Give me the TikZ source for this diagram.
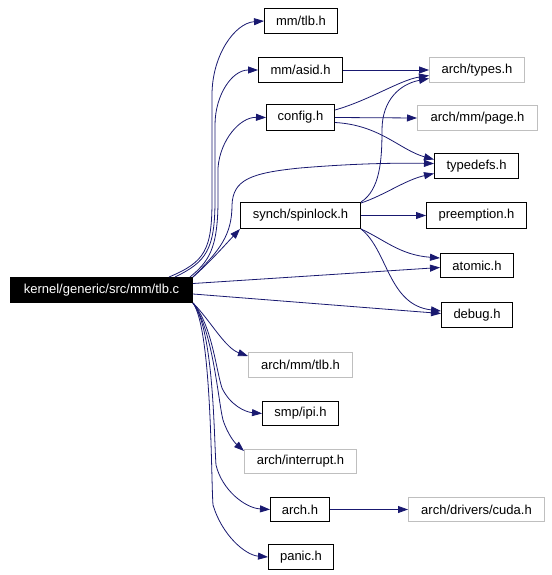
\documentclass[tikz,border=0pt]{standalone}
\usepackage{fontspec}
\setmainfont{Liberation Sans}
\usetikzlibrary{arrows.meta}
\definecolor{edgec}{RGB}{25,25,112}
\definecolor{grayb}{RGB}{191,191,191}
\tikzset{
  box/.style={draw=black, line width=1pt, inner sep=0pt, font=\fontsize{13}{15}\selectfont, anchor=north west},
  gbox/.style={box, draw=grayb},
  mainbox/.style={box, fill=black, text=white},
  edge/.style={draw=edgec, line width=0.8pt, -{Triangle[length=10pt,width=7pt]}},
}
\newcommand{\bx}[7]{\node[#1, minimum width=#5-#3, minimum height=#6-#4] (#2) at (#3,#4) {#7};}
\begin{document}
\begin{tikzpicture}[x=1pt,y=-1pt]
\useasboundingbox (0,0) rectangle (551,575);
\bx{mainbox}{main}{10}{277}{192}{302}{kernel/generic/src/mm/tlb.c}
\bx{box}{mmtlb}{264}{8}{337}{33}{mm/tlb.h}
\bx{box}{asid}{258}{57}{342}{82}{mm/asid.h}
\bx{gbox}{types}{429}{57}{524}{82}{arch/types.h}
\bx{box}{config}{266}{104}{334}{130}{config.h}
\bx{gbox}{page}{417}{105}{537}{130}{arch/mm/page.h}
\bx{box}{typedefs}{434}{153}{518}{178}{typedefs.h}
\bx{box}{spin}{240}{202}{360}{228}{synch/spinlock.h}
\bx{box}{preempt}{426}{202}{526}{228}{preemption.h}
\bx{box}{atomic}{440}{253}{513}{277}{atomic.h}
\bx{box}{debug}{441}{302}{512}{327}{debug.h}
\bx{gbox}{archtlb}{248}{352}{352}{377}{arch/mm/tlb.h}
\bx{box}{ipi}{262}{401}{338}{425}{smp/ipi.h}
\bx{gbox}{intr}{244}{449}{356}{473}{arch/interrupt.h}
\bx{box}{arch}{270}{497}{329}{521}{arch.h}
\bx{gbox}{cuda}{408}{497}{544}{521}{arch/drivers/cuda.h}
\bx{box}{panic}{268}{544}{333}{569}{panic.h}

% from main, upwards
\draw[edge] ([xshift=-24pt]main.north east) .. controls (205,262) and (212,250) .. (212,200) -- (212,95) .. controls (212,55) and (235,23) .. (mmtlb.west);
\draw[edge] ([xshift=-18pt]main.north east) .. controls (206,262) and (215,250) .. (215,200) -- (215,125) .. controls (215,95) and (232,70) .. (asid.west);
\draw[edge] ([xshift=-3pt]main.north east) .. controls (208,262) and (218,250) .. (218,200) -- (218,168) .. controls (220,140) and (240,117) .. (config.west);
\draw[edge] (main.north east) .. controls (220,250) and (232,235) .. (232,205) .. controls (233,180) and (250,173) .. (300,168) .. controls (360,163) and (400,163) .. ([yshift=2.5pt]typedefs.west);
\draw[edge] (main.north east) .. controls (210,262) and (225,245) .. (spin.south west);
\draw[edge] ([yshift=6.5pt]main.east) -- ([yshift=-2pt]atomic.west);
\draw[edge] ([yshift=-4pt]main.east) -- ([yshift=1.5pt]debug.west);
% from main, downwards
\draw[edge] (main.south east) .. controls (210,320) and (225,348) .. ([yshift=9pt]archtlb.west);
\draw[edge] (main.south east) .. controls (212,325) and (216,370) .. (222,388) .. controls (230,405) and (245,412) .. (ipi.west);
\draw[edge] (main.south east) .. controls (213,330) and (218,400) .. (223,420) .. controls (228,435) and (235,443) .. ([yshift=-2pt]intr.north west);
\draw[edge] (main.south east) .. controls (214,330) and (214,440) .. (216,465) .. controls (222,490) and (245,508) .. (arch.west);
\draw[edge] (main.south east) .. controls (212,330) and (211,480) .. (213,505) .. controls (222,535) and (245,555) .. (panic.west);
% others
\draw[edge] (asid.east) -- (types.west);
\draw[edge] ([yshift=-6pt]config.north east) .. controls (370,100) and (400,80) .. ([yshift=-5.5pt]types.west);
\draw[edge] (config.east) -- (page.west);
\draw[edge] ([yshift=-5pt]config.east) .. controls (380,125) and (400,150) .. ([yshift=6.5pt]typedefs.west);
\draw[edge] (spin.north east) .. controls (380,190) and (382,160) .. (382,130) .. controls (382,100) and (400,84) .. ([yshift=-8.5pt]types.west);
\draw[edge] ([yshift=-1pt]spin.north east) .. controls (385,195) and (405,180) .. ([yshift=-7.5pt]typedefs.west);
\draw[edge] (spin.east) -- (preempt.west);
\draw[edge] (spin.south east) .. controls (385,240) and (400,255) .. ([yshift=-5pt]atomic.north west);
\draw[edge] (spin.south east) .. controls (388,250) and (388,305) .. ([yshift=4pt]debug.west);
\draw[edge] (arch.east) -- (cuda.west);
\end{tikzpicture}
\end{document}
